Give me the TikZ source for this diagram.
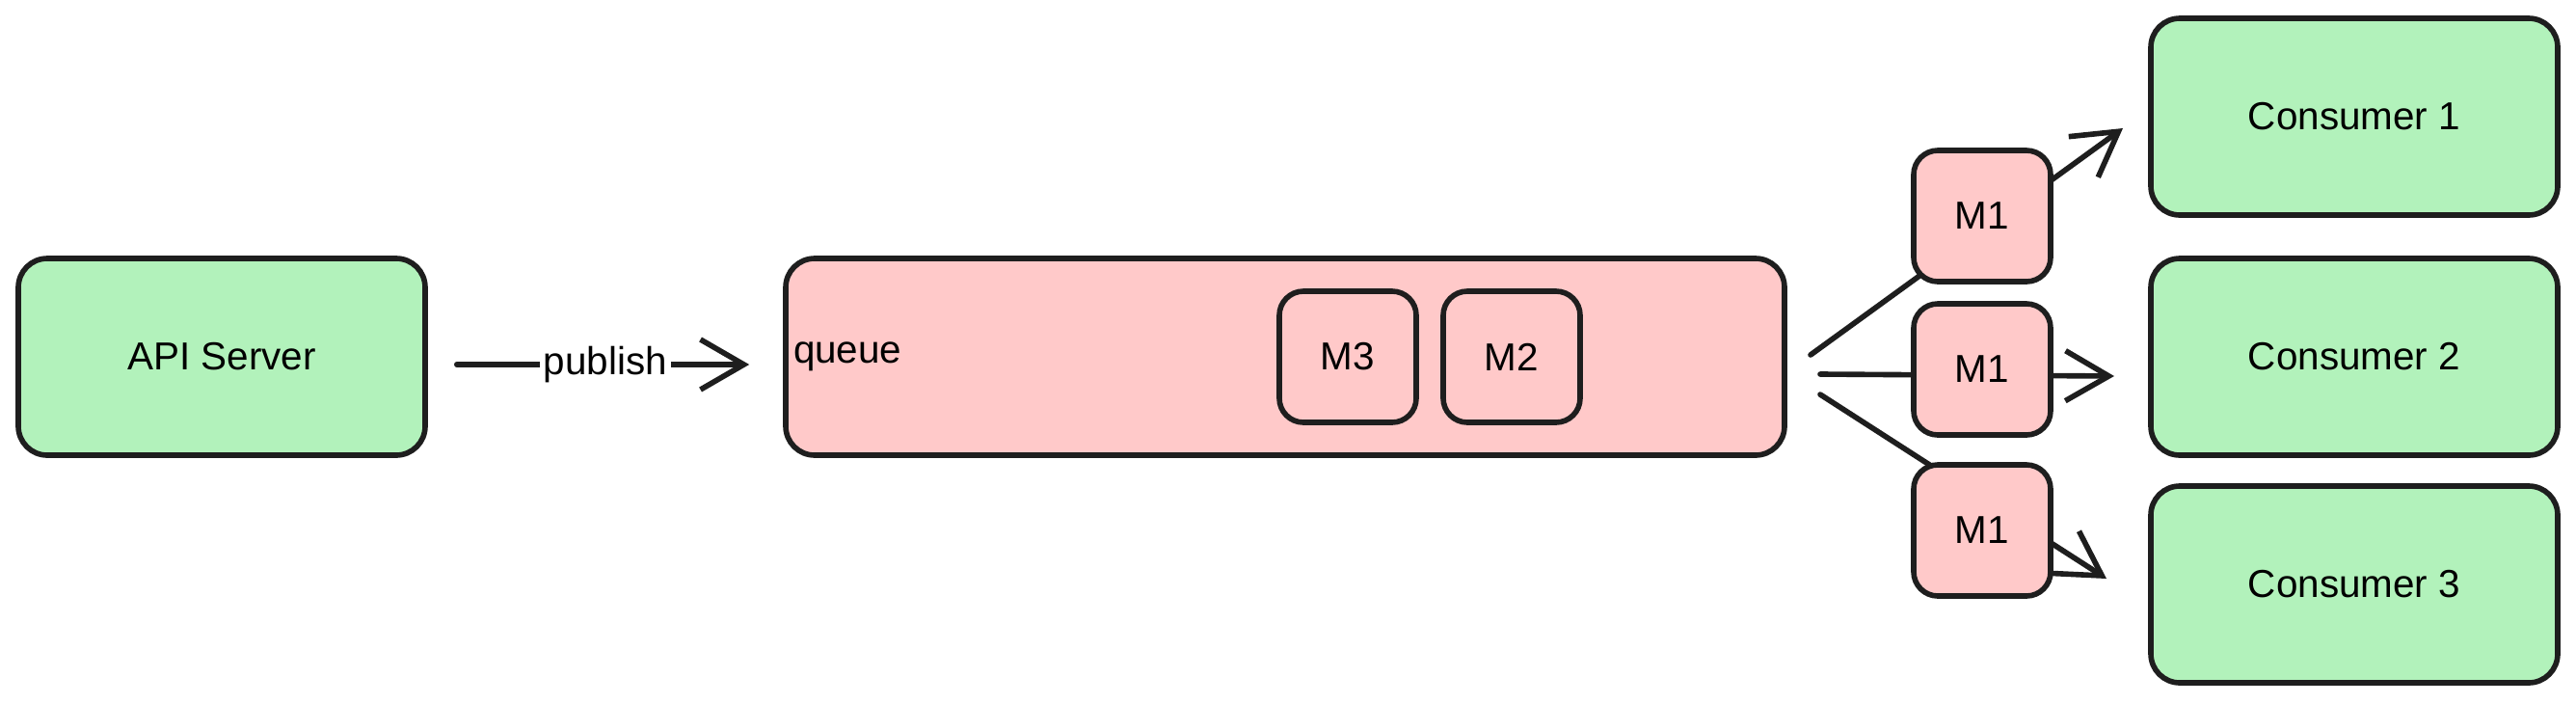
\documentclass[tikz,border=0pt]{standalone}
\usepackage{fontspec}
\setmainfont{Liberation Sans}
\usetikzlibrary{arrows.meta,backgrounds}
\definecolor{mint}{HTML}{B2F2BB}
\definecolor{blush}{HTML}{FFC9C9}
\definecolor{ink}{HTML}{1E1E1E}
\begin{document}
\begin{tikzpicture}
[font=\fontsize{11.5}{14}\selectfont, line width=1.6pt, draw=ink,
 greenbox/.style={draw=ink, fill=mint, rounded corners=0.3cm, minimum width=4.22cm, minimum height=2.04cm},
 queuebox/.style={draw=ink, fill=blush, rounded corners=0.3cm, minimum width=10.36cm, minimum height=2.04cm, inner xsep=0.08cm, text width=10.2cm, align=left},
 msgbox/.style={draw=ink, fill=blush, rounded corners=0.25cm, minimum width=1.42cm, minimum height=1.36cm},
 flow/.style={draw=ink, line width=1.6pt, line cap=round, -{Straight Barb[length=0.45cm, width=0.52cm, line width=1.6pt]}}]
\useasboundingbox (0,0) rectangle (26.72,7.29);
\node [greenbox] (api) at (2.30,3.59) {API Server};
\node [queuebox] (queue) at (13.33,3.59) {\raisebox{-0.6ex}{queue}};
\node [msgbox] (m3) at (13.98,3.59) {M3};
\node [msgbox] (m2) at (15.68,3.59) {M2};
\node [greenbox] (c1) at (24.42,6.08) {Consumer 1};
\node [greenbox] (c2) at (24.42,3.59) {Consumer 2};
\node [greenbox] (c3) at (24.42,1.23) {Consumer 3};
\node [msgbox] (m1a) at (20.56,5.05) {M1};
\node [msgbox] (m1b) at (20.56,3.46) {M1};
\node [msgbox] (m1c) at (20.56,1.79) {M1};
% publish
\draw [flow, shorten <=0.3cm, shorten >=0.35cm] ([yshift=-0.08cm]api.east) -- node [fill=white, inner sep=1pt] (pub) {publish} ([yshift=-0.08cm]queue.west);
% fan out, behind the M1 boxes
\coordinate (fana) at (18.78,3.61);
\coordinate (fanb) at (18.88,3.41);
\coordinate (fanc) at (18.88,3.20);
\coordinate (tipa) at (22.02,5.96);
\coordinate (tipb) at (21.93,3.39);
\coordinate (tipc) at (21.85,1.29);
\begin{pgfonlayer}{background}
\draw [flow] (fana) -- (tipa);
\draw [flow] (fanb) -- (tipb);
\draw [flow] (fanc) -- (tipc);
\end{pgfonlayer}
\end{tikzpicture}
\end{document}
